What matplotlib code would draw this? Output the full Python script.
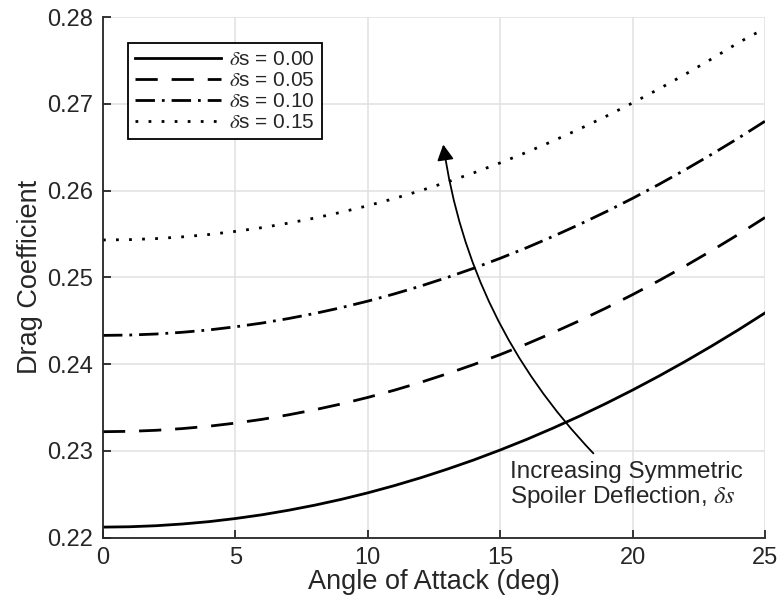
import matplotlib
matplotlib.use('Agg')
import matplotlib.pyplot as plt

plt.rcParams['font.family'] = ['Liberation Sans', 'DejaVu Sans']
plt.rcParams['mathtext.fontset'] = 'stix'

# angle of attack (deg)
alpha = [0, 1, 2, 3, 4, 5, 6, 7, 8, 9, 10, 11, 12, 13, 14, 15, 16, 17, 18,
         19, 20, 21, 22, 23, 24, 25]

# drag coefficient for each spoiler deflection
cd_000 = [0.22120, 0.22124, 0.22136, 0.22156, 0.22183, 0.22219, 0.22262,
          0.22314, 0.22373, 0.22440, 0.22515, 0.22598, 0.22689, 0.22788,
          0.22894, 0.23009, 0.23131, 0.23262, 0.23400, 0.23546, 0.23700,
          0.23862, 0.24032, 0.24210, 0.24395, 0.24589]
cd_005 = [0.23220, 0.23224, 0.23236, 0.23256, 0.23283, 0.23319, 0.23362,
          0.23414, 0.23473, 0.23540, 0.23615, 0.23698, 0.23789, 0.23888,
          0.23994, 0.24109, 0.24231, 0.24362, 0.24500, 0.24646, 0.24800,
          0.24962, 0.25132, 0.25310, 0.25495, 0.25689]
cd_010 = [0.24330, 0.24334, 0.24346, 0.24366, 0.24393, 0.24429, 0.24472,
          0.24524, 0.24583, 0.24650, 0.24725, 0.24808, 0.24899, 0.24998,
          0.25104, 0.25219, 0.25341, 0.25472, 0.25610, 0.25756, 0.25910,
          0.26072, 0.26242, 0.26420, 0.26605, 0.26799]
cd_015 = [0.25430, 0.25434, 0.25446, 0.25466, 0.25493, 0.25529, 0.25572,
          0.25624, 0.25683, 0.25750, 0.25825, 0.25908, 0.25999, 0.26098,
          0.26204, 0.26319, 0.26441, 0.26572, 0.26710, 0.26856, 0.27010,
          0.27172, 0.27342, 0.27520, 0.27705, 0.27870]

labels = [r'$\delta$s = 0.00', r'$\delta$s = 0.05', r'$\delta$s = 0.10', r'$\delta$s = 0.15']
xticks = [0, 5, 10, 15, 20, 25]
yticks = [0.22, 0.23, 0.24, 0.25, 0.26, 0.27, 0.28]

txt = '#262626'
fig = plt.figure(figsize=(7.83, 6.02), dpi=100)
ax = fig.add_axes([0.1315, 0.1071, 0.8455, 0.8646])

lw = 2.0
ax.plot(alpha, cd_000, color='k', lw=lw, label=labels[0])
ax.plot(alpha, cd_005, color='k', lw=lw, dashes=(8, 5), label=labels[1])
ax.plot(alpha, cd_010, color='k', lw=lw, dashes=(7, 2.5, 1, 2.5), label=labels[2])
ax.plot(alpha, cd_015, color='k', lw=lw, dashes=(1, 3.7), label=labels[3])

ax.set_xlim(0, 25)
ax.set_ylim(0.22, 0.28)
ax.set_xticks(xticks)
ax.set_yticks(yticks)
ax.set_yticklabels(['%.2f' % v for v in yticks])
ax.grid(True, color='#e0e0e0', lw=1.1)
ax.set_axisbelow(True)
for s in ['top', 'right']:
    ax.spines[s].set_visible(False)
for s in ['left', 'bottom']:
    ax.spines[s].set_color(txt)
    ax.spines[s].set_linewidth(1.3)
ax.tick_params(direction='in', length=6, width=1.3, color=txt,
               labelsize=17, labelcolor=txt, pad=7)

ax.set_xlabel('Angle of Attack (deg)', fontsize=19.5, color=txt, labelpad=0)
ax.set_ylabel('Drag Coefficient', fontsize=19.5, color=txt, labelpad=3)

leg = ax.legend(loc='upper left', bbox_to_anchor=(0.038, 0.951), borderaxespad=0,
                fontsize=15, handlelength=4.1, handletextpad=0.37,
                labelspacing=0.1, borderpad=0.35, fancybox=False, framealpha=1)
leg.get_frame().set_edgecolor('k')
leg.get_frame().set_linewidth(1.3)
for t in leg.get_texts():
    t.set_color(txt)

ax.annotate('', xy=(12.85, 0.2653), xytext=(18.52, 0.2297),
            arrowprops=dict(arrowstyle='-|>,head_length=0.94,head_width=0.5',
                            mutation_scale=10, color='k', lw=1.3,
                            shrinkA=0, shrinkB=0,
                            connectionstyle='arc3,rad=-0.16'))
ax.text(15.37, 0.2288, 'Increasing Symmetric\nSpoiler Deflection, $\\delta s$',
        fontsize=17.5, color=txt, ha='left', va='top', linespacing=1.05)

fig.savefig('out.png', dpi=100)
